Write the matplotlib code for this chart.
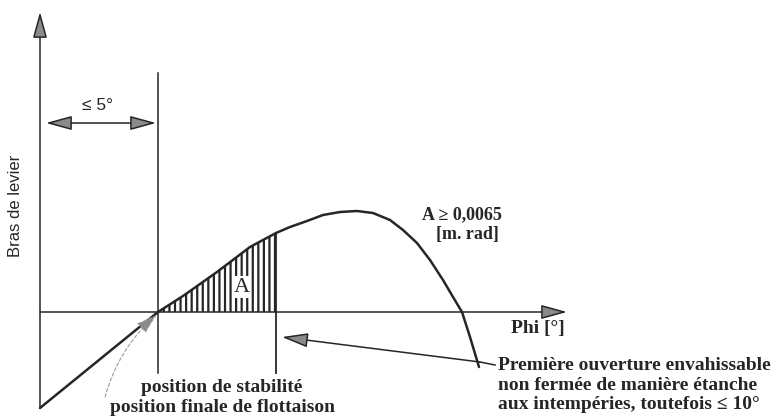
import numpy as np
import matplotlib
matplotlib.use("Agg")
import matplotlib.pyplot as plt

# righting lever curve (phi in deg, lever arm in arbitrary units)
phi = np.array([-29.5, 0, 6.25, 14.75, 23, 29.5, 33, 37.25, 41.25, 45.5, 49.75,
                53.75, 58, 61.25, 64.75, 68, 71.25, 73.75, 76, 78, 80.25])
gz = np.array([-0.96, 0, 0.16, 0.40, 0.65, 0.79, 0.85, 0.91, 0.97, 1.00, 1.01,
               0.99, 0.92, 0.82, 0.69, 0.52, 0.32, 0.15, 0, -0.25, -0.55])

phi_eq = 0.0        # position de stabilite
phi_flood = 29.5    # premiere ouverture envahissable
heel_max = 5        # <= 5 deg

ink = "#262626"
arrow_fc = "#8a8a8a"
serif = ["Liberation Serif", "DejaVu Serif"]
sans = ["Liberation Sans", "DejaVu Sans"]

plt.rcParams["hatch.linewidth"] = 1.6
plt.rcParams["hatch.color"] = ink

fig = plt.figure(figsize=(7.72, 4.17), dpi=100)
ax = fig.add_axes([0, 0, 1, 1])
ax.set_xlim(-39.5, 153.5)
ax.set_ylim(-1.05, 3.12)
ax.axis("off")

head = dict(arrowstyle="-|>,head_length=0.8,head_width=0.22", mutation_scale=20,
            fc=arrow_fc, ec=ink, lw=1.1, shrinkA=0, shrinkB=0)

# axes
ax.annotate("", xy=(phi[0], 3.0), xytext=(phi[0], -0.96), arrowprops=head)
ax.annotate("", xy=(102.25, 0), xytext=(phi[0], 0), arrowprops=head)

# hatched area A
m = (phi >= phi_eq) & (phi <= phi_flood)
ax.fill_between(phi[m], 0, gz[m], facecolor="none", edgecolor=ink, hatch="|||", lw=0)

# curve
ax.plot(phi, gz, color=ink, lw=1.8, solid_capstyle="round", solid_joinstyle="round")

# verticals
ax.plot([phi_eq, phi_eq], [-0.61, 2.39], color=ink, lw=1.1)
ax.plot([phi_flood, phi_flood], [-0.61, gz[phi == phi_flood][0]], color=ink, lw=1.3)

# <= 5 deg dimension
dim = dict(arrowstyle="<|-|>,head_length=0.8,head_width=0.22", mutation_scale=20,
           fc=arrow_fc, ec=ink, lw=1.1, shrinkA=0, shrinkB=0)
ax.annotate("", xy=(-28, 1.89), xytext=(-0.5, 1.89), arrowprops=dim)
ax.text(-15.25, 2.06, "≤ %d°" % heel_max, ha="center", va="center",
        fontsize=12.5, family=sans, color=ink)

# A label
ax.text(21, 0.25, "A", ha="center", va="center", fontsize=16, family=serif,
        color=ink, bbox=dict(fc="white", ec="none", pad=1.0))

ax.text(76, 0.97, "A ≥ 0,0065", ha="center", va="center", fontsize=13,
        family=serif, weight="bold", color=ink)
ax.text(77.25, 0.77, "[m. rad]", ha="center", va="center", fontsize=13,
        family=serif, weight="bold", color=ink)
ax.text(95, -0.17, "Phi [°]", ha="center", va="center", fontsize=14,
        family=serif, weight="bold", color=ink)

ax.text(-35.5, 1.06, "Bras de levier", rotation=90, ha="center", va="center",
        fontsize=12, family=sans, color=ink)

# position de stabilite leader
ax.annotate("", xy=(-0.4, -0.03), xytext=(-13.25, -0.85),
            arrowprops=dict(arrowstyle="-|>,head_length=0.7,head_width=0.22",
                            mutation_scale=18, fc=arrow_fc, ec="#9a9a9a", lw=0.8,
                            ls=(0, (3, 2)), connectionstyle="arc3,rad=-0.15",
                            shrinkA=0, shrinkB=0))
ax.text(16, -0.76, "position de stabilité", ha="center", va="center",
        fontsize=14, family=serif, weight="bold", color=ink)
ax.text(16, -0.96, "position finale de flottaison", ha="center", va="center",
        fontsize=14, family=serif, weight="bold", color=ink)

# flooding opening leader
ax.annotate("", xy=(31, -0.25), xytext=(80.5, -0.50), arrowprops=head)
ax.plot([80.5, 84.25], [-0.50, -0.53], color=ink, lw=1.1)
ax.text(85, -0.73, "Première ouverture envahissable\n"
        "non fermée de manière étanche\n"
        "aux intempéries, toutefois ≤ 10°",
        ha="left", va="center", fontsize=14, family=serif, weight="bold",
        color=ink, linespacing=1.2)

fig.savefig("out.png", dpi=100, facecolor="white")
